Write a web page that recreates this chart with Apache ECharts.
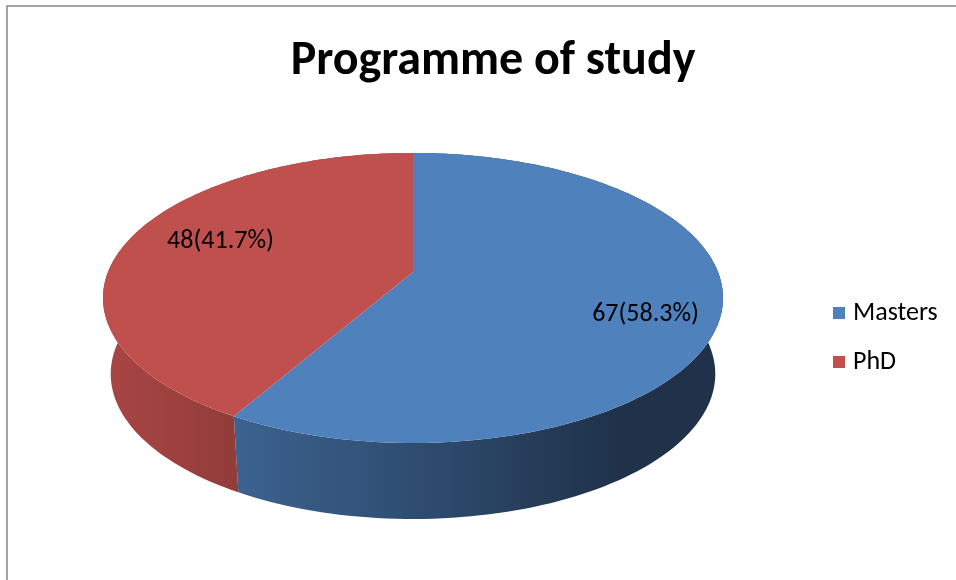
<!DOCTYPE html>
<html>
<head>
<meta charset="utf-8">
<script src="https://cdn.jsdelivr.net/npm/echarts@6/dist/echarts.min.js"></script>
<style>
  html, body { margin: 0; padding: 0; background: #fff; }
  #chart { width: 956px; height: 580px; }
</style>
</head>
<body>
<div id="chart"></div>
<script>
var categories = ['Masters', 'PhD'];
var values = [67, 48];
var colors = ['#4F81BD', '#C0504D'];

var FONT = "Carlito, Lato, 'Open Sans', sans-serif";
var total = values.reduce(function (a, b) { return a + b; }, 0);
var startAt = [];
values.reduce(function (acc, v, i) { startAt[i] = acc; return acc + v; }, 0);

// camera roughly fitted to the reference (3d pie seen from above, slight perspective)
var cx = 413, cy = 272;
var focal = 1513, dist = 4.96;
var tilt = 27.4 * Math.PI / 180;
var wallH = 76, wallShrink = 0.975;

// angle in degrees, clockwise from 12 o'clock; r = 0..1
function project(deg, r) {
  var a = deg * Math.PI / 180;
  var X = r * Math.sin(a), Z = r * Math.cos(a);
  var up = Z * Math.sin(tilt);
  var depth = dist + Z * Math.cos(tilt);
  return [cx + focal * X / depth, cy - focal * up / depth];
}
function toBottom(p) {
  return [cx + (p[0] - cx) * wallShrink, p[1] + wallH];
}

// side wall gets darker from left to right
function shade(hex, k) {
  var n = parseInt(hex.slice(1), 16);
  var r = Math.round(((n >> 16) & 255) * k);
  var g = Math.round(((n >> 8) & 255) * k);
  var b = Math.round((n & 255) * k);
  return 'rgb(' + r + ',' + g + ',' + b + ')';
}
function wallFill(hex) {
  return new echarts.graphic.LinearGradient(103, 0, 723, 0, [
    { offset: 0, color: shade(hex, 0.88) },
    { offset: 0.5, color: shade(hex, 0.6) },
    { offset: 0.83, color: shade(hex, 0.39) },
    { offset: 1, color: shade(hex, 0.39) }
  ], true);
}

function renderSlice(idx) {
  return function (params, api) {
    var v = api.value(0);
    var a0 = 360 * startAt[idx] / total;
    var a1 = a0 + 360 * v / total;
    var steps = Math.max(8, Math.ceil((a1 - a0) / 1.5));
    var arc = [];
    for (var k = 0; k <= steps; k++) arc.push(project(a0 + (a1 - a0) * k / steps, 1));
    var wall = arc.concat(arc.map(toBottom).reverse());
    var face = [project(0, 0)].concat(arc);
    var mid = (a0 + a1) / 2;
    var lp = project(mid, 0.72);
    // excel nudges labels a bit, more so away from the centre line
    var ly = lp[1] + 5 - 40 * Math.cos(mid * Math.PI / 180);
    var pct = (v / total * 100).toFixed(1);
    return {
      type: 'group',
      children: [
        { type: 'polygon', z2: 1, shape: { points: wall }, style: { fill: wallFill(colors[idx]) } },
        { type: 'polygon', z2: 5, shape: { points: face }, style: { fill: colors[idx] } },
        {
          type: 'text', z2: 10, x: lp[0] + 13, y: ly,
          style: {
            text: v + '(' + pct + '%)', align: 'center', verticalAlign: 'middle',
            fontSize: 26, fontFamily: FONT, fill: '#000'
          }
        }
      ]
    };
  };
}

var chart = echarts.init(document.getElementById('chart'));
chart.setOption({
  animation: false,
  backgroundColor: '#fff',
  title: {
    text: 'Programme of study',
    left: 488, top: 33, textAlign: 'center',
    textStyle: { fontSize: 48, fontWeight: 'bold', fontFamily: FONT, color: '#000' }
  },
  legend: {
    orient: 'vertical',
    left: 833, top: 300, padding: 0,
    itemWidth: 12, itemHeight: 12, itemGap: 23,
    icon: 'rect',
    data: categories,
    textStyle: { fontSize: 26, lineHeight: 26, fontFamily: FONT, color: '#000', padding: [0, 0, 0, 3] }
  },
  graphic: [{
    type: 'rect', z: -1, silent: true,
    shape: { x: 7, y: 6, width: 1000, height: 700 },
    style: { fill: null, stroke: '#868686', lineWidth: 1.5 }
  }],
  series: categories.map(function (name, i) {
    return {
      type: 'custom',
      name: name,
      coordinateSystem: 'none',
      itemStyle: { color: colors[i] },
      data: [[values[i]]],
      renderItem: renderSlice(i)
    };
  })
});
</script>
</body>
</html>
